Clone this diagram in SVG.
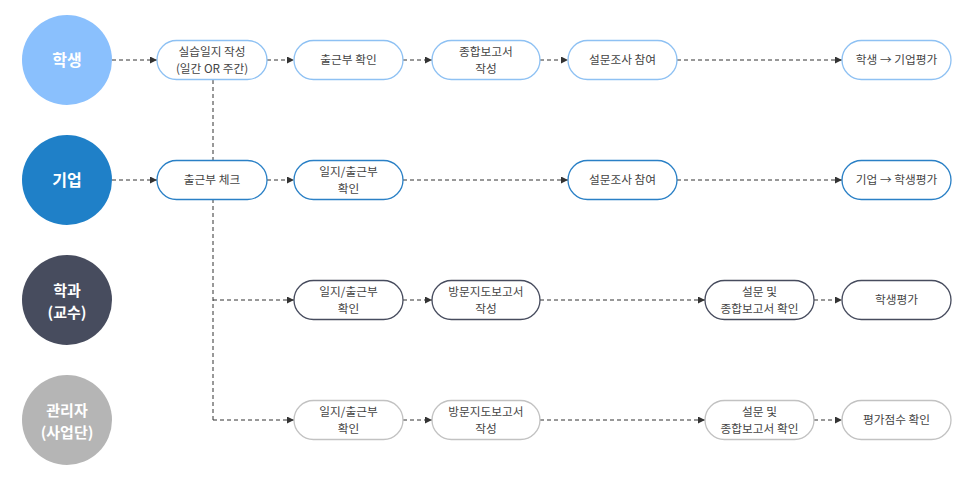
<svg xmlns="http://www.w3.org/2000/svg" width="973" height="480" viewBox="0 0 973 480">
<style>
.bg{fill:#ffffff}
.ctext{font-family:"Noto Sans CJK KR","Noto Sans",sans-serif;font-size:16px;font-weight:bold;fill:#ffffff;text-anchor:middle}
.ctext2{font-family:"Noto Sans CJK KR","Noto Sans",sans-serif;font-size:15px;font-weight:bold;fill:#ffffff;text-anchor:middle}
.ptext{font-family:"Noto Sans CJK KR","Noto Sans",sans-serif;font-size:11.7px;fill:#444444;text-anchor:middle}
.pill{fill:#ffffff;stroke-width:1.3}
.r1{stroke:#8ec1f3}
.r2{stroke:#2a80c6}
.r3{stroke:#474c5e}
.r4{stroke:#c2c2c2}
.conn{fill:none;stroke:#333333;stroke-width:1;stroke-dasharray:4 3}
</style>
<defs>
<marker id="arr" markerUnits="userSpaceOnUse" markerWidth="8" markerHeight="8" refX="7" refY="3.5" orient="auto">
<path d="M0,0 L7,3.5 L0,7 z" fill="#333333"/>
</marker>
</defs>
<rect class="bg" x="0" y="0" width="973" height="480"/>
<g id="connectors">
<path class="conn" d="M213,80 V420"/>
<path class="conn" marker-end="url(#arr)" d="M112,60 H157"/>
<path class="conn" marker-end="url(#arr)" d="M267,60 H294"/>
<path class="conn" marker-end="url(#arr)" d="M403,60 H432"/>
<path class="conn" marker-end="url(#arr)" d="M540,60 H568"/>
<path class="conn" marker-end="url(#arr)" d="M677,60 H842"/>
<path class="conn" marker-end="url(#arr)" d="M112,180 H157"/>
<path class="conn" marker-end="url(#arr)" d="M267,180 H294"/>
<path class="conn" marker-end="url(#arr)" d="M403,180 H568"/>
<path class="conn" marker-end="url(#arr)" d="M677,180 H842"/>
<path class="conn" marker-end="url(#arr)" d="M213,300 H294"/>
<path class="conn" marker-end="url(#arr)" d="M403,300 H432"/>
<path class="conn" marker-end="url(#arr)" d="M540,300 H705"/>
<path class="conn" marker-end="url(#arr)" d="M814,300 H842"/>
<path class="conn" marker-end="url(#arr)" d="M213,420 H294"/>
<path class="conn" marker-end="url(#arr)" d="M403,420 H432"/>
<path class="conn" marker-end="url(#arr)" d="M540,420 H705"/>
<path class="conn" marker-end="url(#arr)" d="M814,420 H842"/>
</g>
<g id="c-student"><circle cx="67" cy="60" r="45" fill="#8ac0fd"/><text class="ctext" x="67" y="66">학생</text></g>
<g id="c-company"><circle cx="67" cy="180" r="45" fill="#1f80c8"/><text class="ctext" x="67" y="186">기업</text></g>
<g id="c-dept"><circle cx="67" cy="300" r="45" fill="#474c5e"/><text class="ctext2" x="67" y="295.5">학과</text><text class="ctext2" x="67" y="317.5">(교수)</text></g>
<g id="c-admin"><circle cx="67" cy="420" r="45" fill="#b5b5b5"/><text class="ctext2" x="67" y="415.5">관리자</text><text class="ctext2" x="67" y="437.5">(사업단)</text></g>

<g id="n1-1"><rect class="pill r1" x="157" y="40.5" width="110" height="39" rx="19.5"/><text class="ptext" x="212" y="56">실습일지 작성</text><text class="ptext" x="212" y="73">(일간 OR 주간)</text></g>
<g id="n1-2"><rect class="pill r1" x="294" y="40.5" width="109" height="39" rx="19.5"/><text class="ptext" x="348.5" y="64.3">출근부 확인</text></g>
<g id="n1-3"><rect class="pill r1" x="432" y="40.5" width="108" height="39" rx="19.5"/><text class="ptext" x="486" y="56">종합보고서</text><text class="ptext" x="486" y="73">작성</text></g>
<g id="n1-4"><rect class="pill r1" x="568" y="40.5" width="109" height="39" rx="19.5"/><text class="ptext" x="622.5" y="64.3">설문조사 참여</text></g>
<g id="n1-5"><rect class="pill r1" x="842" y="40.5" width="109" height="39" rx="19.5"/><text class="ptext" x="896.5" y="64.3">학생 → 기업평가</text></g>

<g id="n2-1"><rect class="pill r2" x="157" y="160.5" width="110" height="39" rx="19.5"/><text class="ptext" x="212" y="184.3">출근부 체크</text></g>
<g id="n2-2"><rect class="pill r2" x="294" y="160.5" width="109" height="39" rx="19.5"/><text class="ptext" x="348.5" y="176">일지/출근부</text><text class="ptext" x="348.5" y="193">확인</text></g>
<g id="n2-4"><rect class="pill r2" x="568" y="160.5" width="109" height="39" rx="19.5"/><text class="ptext" x="622.5" y="184.3">설문조사 참여</text></g>
<g id="n2-5"><rect class="pill r2" x="842" y="160.5" width="109" height="39" rx="19.5"/><text class="ptext" x="896.5" y="184.3">기업 → 학생평가</text></g>

<g id="n3-2"><rect class="pill r3" x="294" y="280.5" width="109" height="39" rx="19.5"/><text class="ptext" x="348.5" y="296">일지/출근부</text><text class="ptext" x="348.5" y="313">확인</text></g>
<g id="n3-3"><rect class="pill r3" x="432" y="280.5" width="108" height="39" rx="19.5"/><text class="ptext" x="486" y="296">방문지도보고서</text><text class="ptext" x="486" y="313">작성</text></g>
<g id="n3-5"><rect class="pill r3" x="705" y="280.5" width="109" height="39" rx="19.5"/><text class="ptext" x="759.5" y="296">설문 및</text><text class="ptext" x="759.5" y="313">종합보고서 확인</text></g>
<g id="n3-6"><rect class="pill r3" x="842" y="280.5" width="109" height="39" rx="19.5"/><text class="ptext" x="896.5" y="304.3">학생평가</text></g>

<g id="n4-2"><rect class="pill r4" x="294" y="400.5" width="109" height="39" rx="19.5"/><text class="ptext" x="348.5" y="416">일지/출근부</text><text class="ptext" x="348.5" y="433">확인</text></g>
<g id="n4-3"><rect class="pill r4" x="432" y="400.5" width="108" height="39" rx="19.5"/><text class="ptext" x="486" y="416">방문지도보고서</text><text class="ptext" x="486" y="433">작성</text></g>
<g id="n4-5"><rect class="pill r4" x="705" y="400.5" width="109" height="39" rx="19.5"/><text class="ptext" x="759.5" y="416">설문 및</text><text class="ptext" x="759.5" y="433">종합보고서 확인</text></g>
<g id="n4-6"><rect class="pill r4" x="842" y="400.5" width="109" height="39" rx="19.5"/><text class="ptext" x="896.5" y="424.3">평가점수 확인</text></g>
</svg>
